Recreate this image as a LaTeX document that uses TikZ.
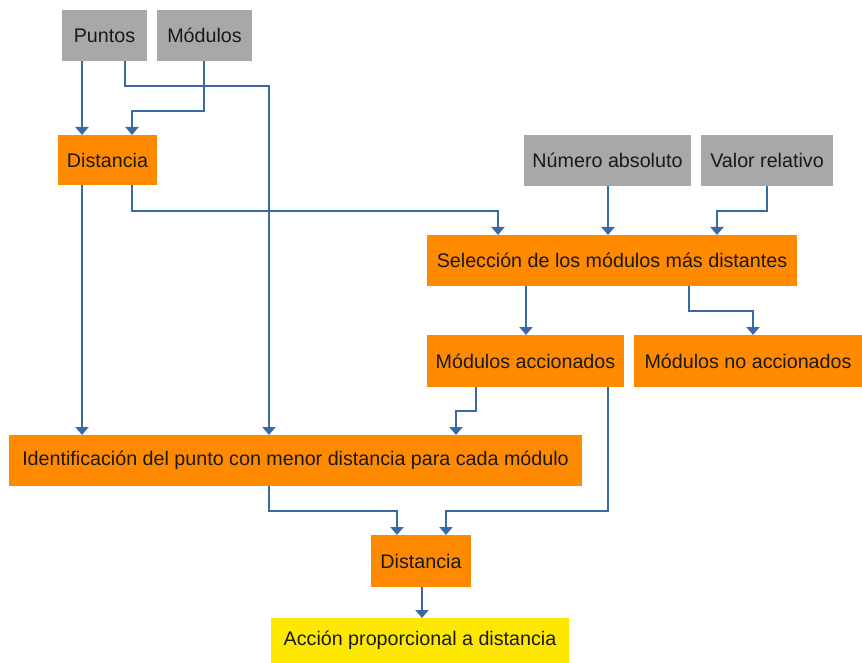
\documentclass[tikz,border=0pt]{standalone}
\usepackage{fontspec}
\setmainfont{Liberation Sans}
\usetikzlibrary{arrows.meta, calc}
\definecolor{boxgrey}{HTML}{A8A8A8}
\definecolor{boxorange}{HTML}{FF8A00}
\definecolor{boxyellow}{HTML}{FFE800}
\definecolor{linkblue}{HTML}{3A6AA6}
\tikzset{
    every picture/.style = {
        x = 1pt,
        y = -1pt
    },
    box/.style = {
        rectangle,
        inner sep = 0pt,
        outer sep = 0pt,
        text = black!90,
        font = \fontsize{19.7}{23}\selectfont
    },
    inbox/.style = {box, fill = boxgrey},
    workbox/.style = {box, fill = boxorange},
    outbox/.style = {box, fill = boxyellow},
    link/.style = {
        draw = linkblue,
        line width = 2pt,
        -{Triangle[width = 13pt, length = 8pt]}
    }
}

\begin{document}
\begin{tikzpicture}
    \useasboundingbox (0,0) rectangle (862,663);

    % inputs
    \node[inbox, minimum width = 85pt, minimum height = 51pt] (puntos) at (104.5,35.5) {Puntos};
    \node[inbox, minimum width = 95pt, minimum height = 51pt] (modulos) at (204.5,35.5) {Módulos};
    \node[inbox, minimum width = 167pt, minimum height = 51pt] (numero) at (607.5,160.5) {Número absoluto};
    \node[inbox, minimum width = 132pt, minimum height = 51pt] (valor) at (767,160.5) {Valor relativo};

    % steps
    \node[workbox, minimum width = 99pt, minimum height = 50pt] (dist1) at (107.5,160) {Distancia};
    \node[workbox, minimum width = 370pt, minimum height = 51pt] (sel) at (612,260.5) {Selección de los módulos más distantes};
    \node[workbox, minimum width = 197pt, minimum height = 52pt] (acc) at (525.5,361) {Módulos accionados};
    \node[workbox, minimum width = 228pt, minimum height = 52pt] (noacc) at (748,361) {Módulos no accionados};
    \node[workbox, minimum width = 573pt, minimum height = 51pt] (ident) at (295.5,460.5) {Identificación del punto con menor distancia para cada módulo};
    \node[workbox, minimum width = 100pt, minimum height = 52pt] (dist2) at (421,561) {Distancia};
    \node[outbox, minimum width = 298pt, minimum height = 45pt] (accion) at (420,640.5) {Acción proporcional a distancia};

    \draw[link] (82,0 |- puntos.south) -- (82,0 |- dist1.north);
    \draw[link] (204,0 |- modulos.south) -- ++(0,50) -| (132,0 |- dist1.north);
    \draw[link] (125,0 |- puntos.south) -- ++(0,25) -| (269,0 |- ident.north);
    \draw[link] (82,0 |- dist1.south) -- (82,0 |- ident.north);
    \draw[link] (132,0 |- dist1.south) -- ++(0,26) -| (498,0 |- sel.north);
    \draw[link] (608,0 |- numero.south) -- (608,0 |- sel.north);
    \draw[link] (767,0 |- valor.south) -- ++(0,25) -| (717,0 |- sel.north);
    \draw[link] (526,0 |- sel.south) -- (526,0 |- acc.north);
    \draw[link] (689,0 |- sel.south) -- ++(0,25) -| (753,0 |- noacc.north);
    \draw[link] (476,0 |- acc.south) -- ++(0,24) -| (456,0 |- ident.north);
    \draw[link] (269,0 |- ident.south) -- ++(0,25) -| (397,0 |- dist2.north);
    \draw[link] (608,0 |- acc.south) -- ++(0,124) -| (446,0 |- dist2.north);
    \draw[link] (422,0 |- dist2.south) -- (422,0 |- accion.north);
\end{tikzpicture}
\end{document}
